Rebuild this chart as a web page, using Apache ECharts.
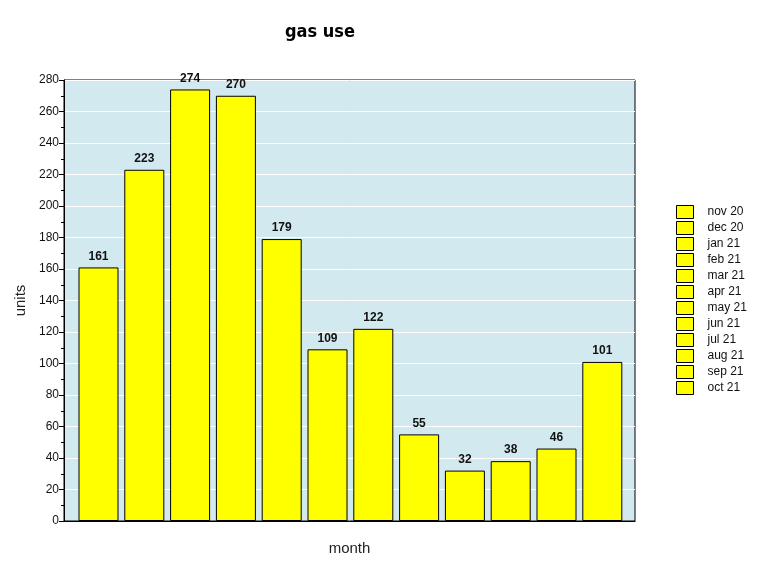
<!DOCTYPE html>
<html>
<head>
<meta charset="utf-8">
<script src="https://cdn.jsdelivr.net/npm/echarts@6/dist/echarts.min.js"></script>
<style>html,body{margin:0;padding:0;background:#fff;}#c{width:767px;height:569px;}</style>
</head>
<body>
<div id="c"></div>
<script>
const months = ["nov 20","dec 20","jan 21","feb 21","mar 21","apr 21","may 21","jun 21","jul 21","aug 21","sep 21","oct 21"];
const units = [161, 223, 274, 270, 179, 109, 122, 55, 32, 38, 46, 101];
const yTicks = {min: 0, max: 280, interval: 20};

const chart = echarts.init(document.getElementById('c'));
const font = "'Liberation Sans', Arial, sans-serif";
const series = months.map((m, i) => ({
  name: m,
  type: 'bar',
  stack: 'all',
  xAxisIndex: 1,
  yAxisIndex: 1,
  barWidth: 40,
  data: units.map((v, j) => (j === i ? v : null)),
  itemStyle: {color: '#ffff00', borderColor: '#000', borderWidth: 1},
  label: {show: true, position: 'top', distance: 5, color: '#111', fontFamily: font, fontWeight: 'bold', fontSize: 12},
  emphasis: {disabled: true},
  animation: false
}));

chart.setOption({
  animation: false,
  title: {
    text: 'gas use', left: 280, top: 18,
    textStyle: {fontFamily: "'DejaVu Sans Condensed', 'Liberation Sans Narrow', sans-serif", fontWeight: 'bold', fontSize: 18, color: '#000'}
  },
  legend: {
    orient: 'vertical', left: 671, top: 200,
    itemWidth: 17, itemHeight: 13, itemGap: 2,
    icon: 'rect',
    data: months,
    itemStyle: {borderColor: '#000', borderWidth: 1},
    textStyle: {fontFamily: font, fontSize: 12, color: '#111', padding: [0, 0, 0, 9]}
  },
  grid: [
    {left: 64, right: 132, top: 80, bottom: 48, show: true, backgroundColor: '#d3e9f0', borderColor: '#000', borderWidth: 1},
    {left: 75.6, right: 141.8, top: 80, bottom: 48}
  ],
  xAxis: [
    {type: 'category', gridIndex: 0, data: months, axisLabel: {show: false}, axisTick: {show: false},
     axisLine: {lineStyle: {color: '#000'}},
     name: 'month', nameLocation: 'middle', nameGap: 20,
     nameTextStyle: {fontFamily: font, fontSize: 15, color: '#222'}},
    {type: 'category', gridIndex: 1, data: months, show: false}
  ],
  yAxis: [
    {type: 'value', gridIndex: 0, min: yTicks.min, max: yTicks.max, interval: yTicks.interval,
     axisLine: {show: true, lineStyle: {color: '#000'}},
     axisTick: {show: true, length: 5, lineStyle: {color: '#000'}},
     minorTick: {show: true, splitNumber: 2, length: 3, lineStyle: {color: '#000'}},
     axisLabel: {fontFamily: font, fontSize: 12, color: '#111', margin: 5},
     splitLine: {show: true, lineStyle: {color: '#fff', width: 1}},
     name: 'units', nameLocation: 'middle', nameGap: 34, nameRotate: 90,
     nameTextStyle: {fontFamily: font, fontSize: 15, color: '#222'}},
    {type: 'value', gridIndex: 1, min: yTicks.min, max: yTicks.max, interval: yTicks.interval, show: false}
  ],
  series: series
});
</script>
</body>
</html>
